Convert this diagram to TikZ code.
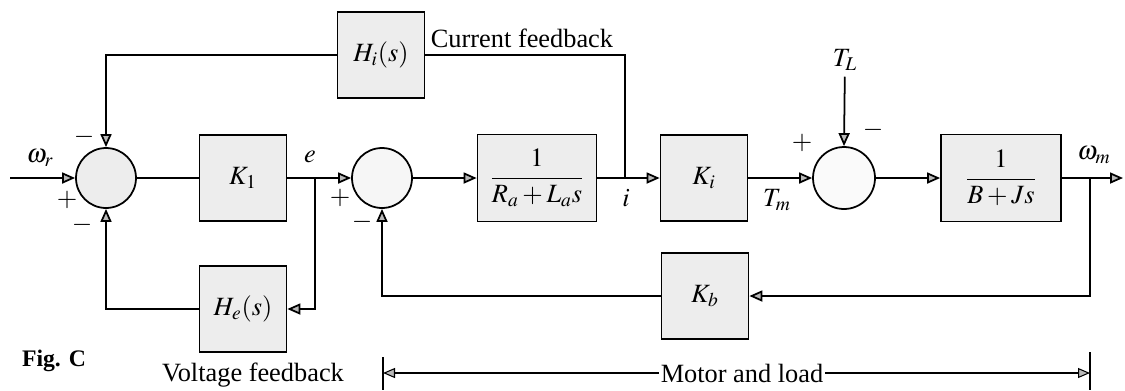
\documentclass[tikz,border=0pt]{standalone}
\usepackage{mathptmx}
\usepackage{fontspec}
\setmainfont{Liberation Serif}
\usetikzlibrary{arrows.meta,positioning,calc}

\begin{document}
\begin{tikzpicture}[
  x=0.02cm, y=-0.02cm,
  font=\fontsize{15}{18}\selectfont,
  blk/.style={rectangle, draw, line width=1pt, fill=gray!14, minimum width=1.74cm, minimum height=1.72cm, inner sep=2pt},
  sumj/.style={circle, draw, line width=1pt, minimum size=1.2cm, inner sep=0pt},
  arrow/.style={-{Triangle[length=2.6mm, width=2.2mm, fill=gray!55]}, line width=1pt},
  wire/.style={line width=1pt},
  dimarrow/.style={-{Triangle[length=2.4mm, width=2mm, fill=gray!55]}, line width=0.6pt},
  sgn/.style={inner sep=0pt},
  sig/.style={inner sep=1pt},
]
\useasboundingbox (0,0) rectangle (1125,390);

% === Forward path ===
\node[sumj, fill=gray!14] (s1) at (106,178) {};
\node[blk] (k1) at (243,178) {$K_1$};
\node[sumj, fill=gray!7] (s2) at (382,178) {};
\node[blk, minimum width=2.38cm, minimum height=1.74cm] (ra) at (537,178) {$\displaystyle\frac{1}{R_a+L_as}$};
\node[blk] (ki) at (704,178) {$K_i$};
\node[sumj, fill=gray!4, minimum size=1.24cm] (s3) at (844,178) {};
\node[blk, minimum width=2.4cm, minimum height=1.74cm] (bj) at (1001,178) {$\displaystyle\frac{1}{B+Js}$};

% === Feedback blocks ===
\node[blk] (hi) at (381,55) {$H_i(s)$};
\node[blk] (he) at (243,309) {$H_e(s)$};
\node[blk] (kb) at (705,296) {$K_b$};

% === Branch points and ends ===
\coordinate (in) at (10,178);
\coordinate (eb) at (315,178);
\coordinate (ib) at (625,178);
\coordinate (wb) at (1090,178);
\coordinate (out) at (1123,178);
\node (tl) at (845,60) {$T_L$};

% === Connectors ===
\draw[arrow] (in) -- (s1.west);
\draw[wire] (s1.east) -- (k1.west);
\draw[arrow] (k1.east) -- (s2.west);
\draw[arrow] (eb) |- (he.east);
\draw[arrow] (he.west) -| (s1.south);
\draw[arrow] (s2.east) -- (ra.west);
\draw[arrow] (ra.east) -- (ki.west);
\draw[wire] (ib) |- (hi.east);
\draw[arrow] (hi.west) -| (s1.north);
\draw[arrow] (ki.east) -- (s3.west);
\draw[arrow] (tl) -- (s3.north);
\draw[arrow] (s3.east) -- (bj.west);
\draw[arrow] (bj.east) -- (out);
\draw[arrow] (wb) |- (kb.east);
\draw[arrow] (kb.west) -| (s2.south);

% === Signal labels ===
\node[sig] (wr) at (40,158) {$\omega_r$};
\node[sig] (e) at (310,157) {$e$};
\node[sig] (i) at (626,198) {$i$};
\node[sig] (tm) at (777,200) {$T_m$};
\node[sig] (wm) at (1094,155) {$\omega_m$};

% === Signs ===
\node[sgn] (p1) at (67,200) {$+$};
\node[sgn] (m1a) at (84,137) {$-$};
\node[sgn] (m1b) at (82,225) {$-$};
\node[sgn] (p2) at (340,198) {$+$};
\node[sgn] (m2) at (362,222) {$-$};
\node[sgn] (p3) at (802,143) {$+$};
\node[sgn] (m3) at (873,130) {$-$};

% === Texts ===
\node (cf) at (522,38) {Current feedback};
\node (vf) at (253,375) {Voltage feedback};
\node[font=\bfseries\fontsize{13.5}{16}\selectfont] (fig) at (54,361) {Fig. C};

% === Motor and load span ===
\coordinate (mlA) at (383,373);
\coordinate (mlB) at (1090,373);
\coordinate (mlAt) at (383,357);
\coordinate (mlAb) at (383,390);
\coordinate (mlBt) at (1090,352);
\coordinate (mlBb) at (1090,390);
\draw[line width=0.8pt] (mlAt) -- (mlAb);
\draw[line width=0.8pt] (mlBt) -- (mlBb);
\node[inner sep=1pt] (ml) at (742,373) {Motor and load};
\draw[dimarrow] (ml.west) -- (mlA);
\draw[dimarrow] (ml.east) -- (mlB);

\end{tikzpicture}
\end{document}
